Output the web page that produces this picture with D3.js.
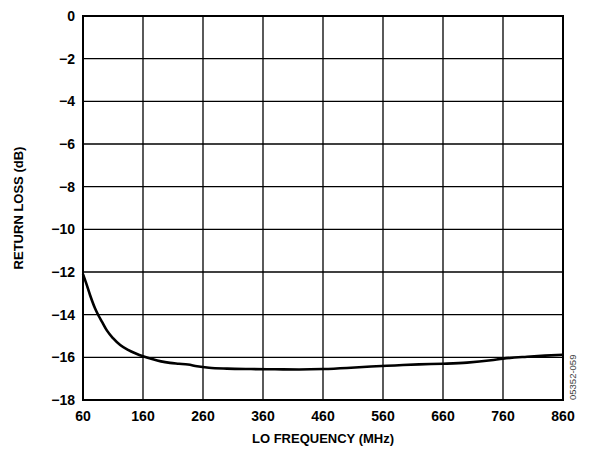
<!DOCTYPE html>
<html lang="en">
<head>
    <meta charset="UTF-8">
    <title>Return Loss vs LO Frequency</title>
    <script src="https://d3js.org/d3.v7.min.js"></script>
    <style>
        body { margin: 0; background: #fff; }
        text { font-family: "Liberation Sans", Arial, sans-serif; font-weight: bold; }
    </style>
</head>
<body>
    <script>
        var freq = [60, 65, 72, 80, 86, 92, 100, 110, 122, 135, 148, 160, 175, 190, 205, 220, 235, 250, 270, 300,
                    340, 380, 420, 460, 500, 540, 580, 620, 660, 700, 740, 760, 800, 830, 860];
        var returnLoss = [-12.1, -12.5, -13.1, -13.7, -14.05, -14.35, -14.75, -15.1, -15.42, -15.65, -15.82, -15.95,
                          -16.08, -16.19, -16.26, -16.3, -16.34, -16.42, -16.49, -16.53, -16.55, -16.56, -16.57, -16.55,
                          -16.5, -16.43, -16.38, -16.33, -16.3, -16.25, -16.14, -16.06, -15.97, -15.92, -15.88];
        var xTicks = [60, 160, 260, 360, 460, 560, 660, 760, 860];
        var yTicks = [0, -2, -4, -6, -8, -10, -12, -14, -16, -18];

        var w = 590, h = 454;
        var margin = { top: 16, right: 27, bottom: 54, left: 83 };

        var svg = d3.select("body").append("svg")
            .attr("width", w)
            .attr("height", h);

        var x = d3.scaleLinear().domain([60, 860]).range([margin.left, w - margin.right]);
        var y = d3.scaleLinear().domain([-18, 0]).range([h - margin.bottom, margin.top]);

        // grid
        svg.append("g").selectAll("line").data(xTicks).enter().append("line")
            .attr("x1", d => x(d)).attr("x2", d => x(d))
            .attr("y1", y(0)).attr("y2", y(-18))
            .attr("stroke", "#000").attr("stroke-width", 1.3);
        svg.append("g").selectAll("line").data(yTicks).enter().append("line")
            .attr("x1", x(60)).attr("x2", x(860))
            .attr("y1", d => y(d)).attr("y2", d => y(d))
            .attr("stroke", "#000").attr("stroke-width", 1.3);

        // frame
        svg.append("rect")
            .attr("x", x(60)).attr("y", y(0))
            .attr("width", x(860) - x(60)).attr("height", y(-18) - y(0))
            .attr("fill", "none").attr("stroke", "#000").attr("stroke-width", 2);

        // tick labels
        svg.append("g").selectAll("text").data(yTicks).enter().append("text")
            .attr("x", x(60) - 8)
            .attr("y", d => y(d) + 5)
            .attr("text-anchor", "end")
            .attr("font-size", "14px")
            .text(d => d < 0 ? "\u2212" + Math.abs(d) : d);

        svg.append("g").selectAll("text").data(xTicks).enter().append("text")
            .attr("x", d => x(d))
            .attr("y", y(-18) + 21)
            .attr("text-anchor", "middle")
            .attr("font-size", "14px")
            .text(d => d);

        // axis titles
        svg.append("text")
            .attr("x", (x(60) + x(860)) / 2)
            .attr("y", 443)
            .attr("text-anchor", "middle")
            .attr("font-size", "13px")
            .text("LO FREQUENCY (MHz)");

        svg.append("text")
            .attr("transform", "translate(23," + (y(0) + y(-18)) / 2 + ") rotate(-90)")
            .attr("text-anchor", "middle")
            .attr("font-size", "13px")
            .text("RETURN LOSS (dB)");

        // curve
        var line = d3.line()
            .x((d, i) => x(freq[i]))
            .y(d => y(d))
            .curve(d3.curveMonotoneX);

        svg.append("path")
            .datum(returnLoss)
            .attr("d", line)
            .attr("fill", "none")
            .attr("stroke", "#000")
            .attr("stroke-width", 2.6);

        // figure id
        svg.append("text")
            .attr("transform", "translate(576,400) rotate(-90)")
            .attr("font-size", "9.5px")
            .style("font-weight", "normal")
            .attr("fill", "#444")
            .text("05352-059");
    </script>
</body>
</html>
